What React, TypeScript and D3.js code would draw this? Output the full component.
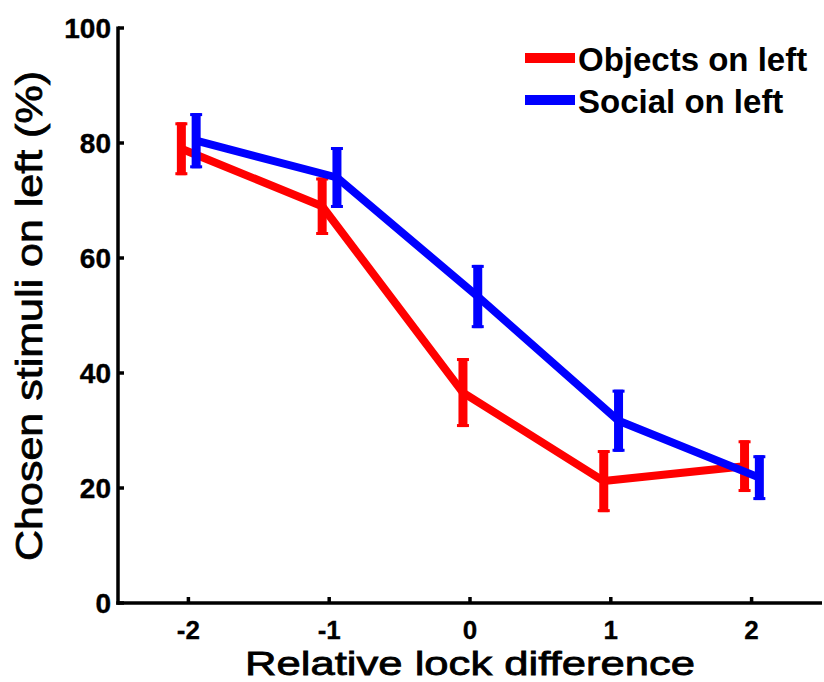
import React from "react";
import * as d3 from "d3";

const categories = [-2, -1, 0, 1, 2];
const objectsMean = [79.0, 69.0, 36.6, 21.2, 23.8];
const objectsErr = [4.6, 5.0, 6.0, 5.4, 4.5];
const socialMean = [80.4, 74.0, 53.3, 31.7, 21.8];
const socialErr = [4.8, 5.3, 5.5, 5.4, 3.9];
const yTicks = [0, 20, 40, 60, 80, 100];
const seriesNames = ["Objects on left", "Social on left"];
const seriesColors = ["#ff0000", "#0000ff"];
const seriesOffsets = [-0.05, 0.055];

const W = 824;
const H = 682;
const FONT = "'Liberation Sans', Arial, Helvetica, sans-serif";

export default function App() {
  const x = d3.scaleLinear().domain([-2.5, 2.5]).range([118, 822]);
  const y = d3.scaleLinear().domain([0, 100]).range([603, 28]);
  const means = [objectsMean, socialMean];
  const errs = [objectsErr, socialErr];
  const line = d3
    .line<[number, number]>()
    .x((d) => d[0])
    .y((d) => d[1]);

  return (
    <svg
      width={W}
      height={H}
      style={{ position: "absolute", left: 0, top: 0, background: "#fff" }}
      fontFamily={FONT}
    >
      {/* series */}
      {means.map((m, si) => {
        const pts: [number, number][] = categories.map((c, i) => [
          x(c + seriesOffsets[si]),
          y(m[i]),
        ]);
        return (
          <g key={si}>
            <path
              d={line(pts) || ""}
              fill="none"
              stroke={seriesColors[si]}
              strokeWidth={8}
              strokeLinejoin="round"
            />
            {categories.map((c, i) => {
              const cx = x(c + seriesOffsets[si]);
              const top = y(m[i] + errs[si][i]);
              const bot = y(m[i] - errs[si][i]);
              return (
                <g key={i} fill={seriesColors[si]}>
                  <rect x={cx - 4.5} y={top} width={9} height={bot - top} />
                  <rect x={cx - 6} y={top} width={12} height={3} />
                  <rect x={cx - 6} y={bot - 3} width={12} height={3} />
                </g>
              );
            })}
          </g>
        );
      })}

      {/* axes */}
      <g stroke="#000" strokeWidth={3.5} fill="none">
        <line x1={118} x2={118} y1={y(100) - 1.5} y2={y(0) + 1.75} />
        <line x1={116.25} x2={822} y1={y(0)} y2={y(0)} />
        {yTicks.map((t) => (
          <line key={t} x1={118} x2={124} y1={y(t)} y2={y(t)} />
        ))}
        {categories.map((c) => (
          <line key={c} x1={x(c)} x2={x(c)} y1={y(0)} y2={y(0) - 6} />
        ))}
      </g>
      <g
        fontWeight="bold"
        fontSize={28}
        fill="#000"
        stroke="#000"
        strokeWidth={0.4}
        textAnchor="end"
      >
        {yTicks.map((t) => (
          <text key={t} x={111} y={y(t) + 10}>
            {t}
          </text>
        ))}
      </g>
      <g
        fontWeight="bold"
        fontSize={26}
        fill="#000"
        stroke="#000"
        strokeWidth={0.3}
        textAnchor="middle"
      >
        {categories.map((c) => (
          <text key={c} x={x(c)} y={639}>
            {c < 0 ? "-" + Math.abs(c) : String(c)}
          </text>
        ))}
      </g>
      <text
        x={470}
        y={675}
        fontSize={34}
        textAnchor="middle"
        textLength={450}
        lengthAdjust="spacingAndGlyphs"
        fill="#000"
        stroke="#000"
        strokeWidth={0.8}
      >
        Relative lock difference
      </text>
      <text
        transform="translate(42,316) rotate(-90)"
        fontSize={37}
        textAnchor="middle"
        textLength={490}
        lengthAdjust="spacingAndGlyphs"
        fill="#000"
        stroke="#000"
        strokeWidth={0.8}
      >
        Chosen stimuli on left (%)
      </text>

      {/* legend */}
      {seriesNames.map((n, i) => (
        <g key={n}>
          <line
            x1={525}
            x2={575}
            y1={58 + i * 42}
            y2={58 + i * 42}
            stroke={seriesColors[i]}
            strokeWidth={10}
          />
          <text
            x={578}
            y={71 + i * 42}
            fontSize={33}
            fontWeight="bold"
            fill="#000"
          >
            {n}
          </text>
        </g>
      ))}
    </svg>
  );
}
